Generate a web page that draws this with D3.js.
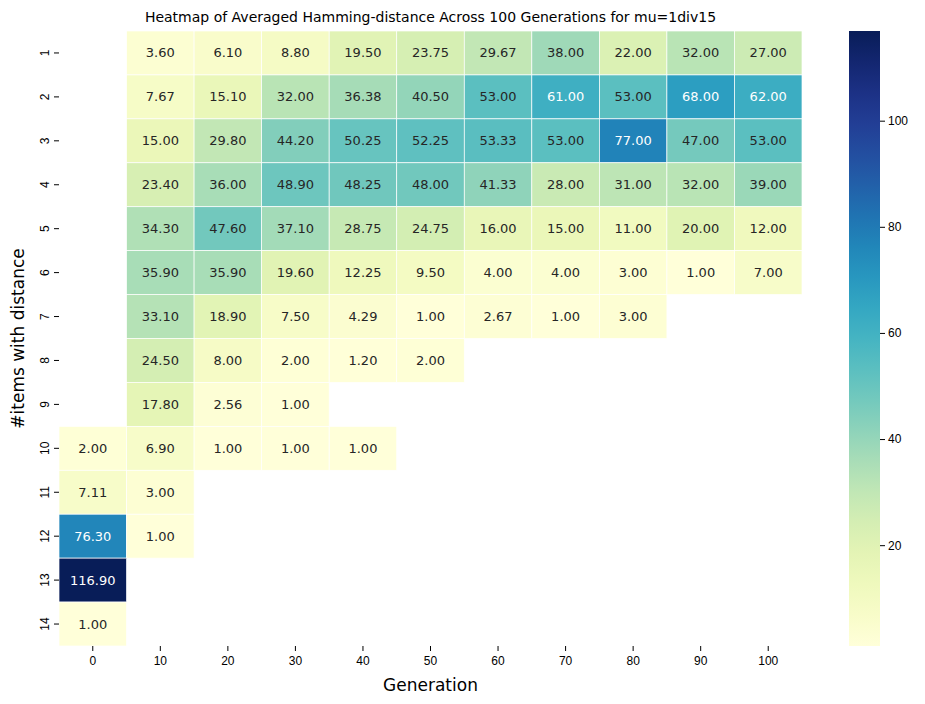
<!DOCTYPE html>
<html><head><meta charset="utf-8">
<script src="https://cdn.jsdelivr.net/npm/d3@7"></script>
<style>body{margin:0;background:#fff;font-family:"DejaVu Sans",sans-serif}</style>
</head><body><svg id="c" width="925" height="704"></svg>
<script>
const generations=[0,10,20,30,40,50,60,70,80,90,100];
const items=[1,2,3,4,5,6,7,8,9,10,11,12,13,14];
const N=null;
const row1=[N,3.60,6.10,8.80,19.50,23.75,29.67,38.00,22.00,32.00,27.00];
const row2=[N,7.67,15.10,32.00,36.38,40.50,53.00,61.00,53.00,68.00,62.00];
const row3=[N,15.00,29.80,44.20,50.25,52.25,53.33,53.00,77.00,47.00,53.00];
const row4=[N,23.40,36.00,48.90,48.25,48.00,41.33,28.00,31.00,32.00,39.00];
const row5=[N,34.30,47.60,37.10,28.75,24.75,16.00,15.00,11.00,20.00,12.00];
const row6=[N,35.90,35.90,19.60,12.25,9.50,4.00,4.00,3.00,1.00,7.00];
const row7=[N,33.10,18.90,7.50,4.29,1.00,2.67,1.00,3.00,N,N];
const row8=[N,24.50,8.00,2.00,1.20,2.00,N,N,N,N,N];
const row9=[N,17.80,2.56,1.00,N,N,N,N,N,N,N];
const row10=[2.00,6.90,1.00,1.00,1.00,N,N,N,N,N,N];
const row11=[7.11,3.00,N,N,N,N,N,N,N,N,N];
const row12=[76.30,1.00,N,N,N,N,N,N,N,N,N];
const row13=[116.90,N,N,N,N,N,N,N,N,N,N];
const row14=[1.00,N,N,N,N,N,N,N,N,N,N];
const rows=[row1,row2,row3,row4,row5,row6,row7,row8,row9,row10,row11,row12,row13,row14];
const cbTicks=[20,40,60,80,100];

const svg=d3.select("#c");
const L=59,R=802,T=31,B=646;
const x=d3.scaleBand().domain(generations).range([L,R]);
const y=d3.scaleBand().domain(items).range([T,B]);
const cells=[];
rows.forEach((r,i)=>r.forEach((v,j)=>{if(v!==null)cells.push({g:generations[j],it:items[i],v});}));
const vmin=d3.min(cells,d=>d.v),vmax=d3.max(cells,d=>d.v);
const col=d3.scaleSequential(d3.interpolateYlGnBu).domain([vmin,vmax]);
function lum(c){const o=d3.rgb(c);const f=u=>{u/=255;return u<=0.03928?u/12.92:Math.pow((u+0.055)/1.055,2.4)};return 0.2126*f(o.r)+0.7152*f(o.g)+0.0722*f(o.b);}
const g=svg.append("g");
g.selectAll("rect").data(cells).join("rect")
 .attr("x",d=>x(d.g)).attr("y",d=>y(d.it)).attr("width",x.bandwidth()).attr("height",y.bandwidth())
 .attr("fill",d=>col(d.v)).attr("stroke","#fff").attr("stroke-width",0.7);
g.selectAll("text").data(cells).join("text")
 .attr("x",d=>x(d.g)+x.bandwidth()/2).attr("y",d=>y(d.it)+y.bandwidth()/2)
 .attr("text-anchor","middle").attr("dominant-baseline","central").attr("font-size",13)
 .attr("fill",d=>lum(col(d.v))>0.408?"#262626":"#fff").text(d=>d.v.toFixed(2));
const xa=svg.append("g").attr("transform",`translate(0,${B})`).call(d3.axisBottom(x).tickSizeOuter(0).tickSize(5));
xa.select(".domain").remove();
xa.selectAll("text").attr("font-size",12).attr("fill","#000").attr("dy","0.9em");
const ya=svg.append("g").attr("transform",`translate(${L},0)`).call(d3.axisLeft(y).tickSizeOuter(0).tickSize(5));
ya.select(".domain").remove();
ya.selectAll("text").attr("font-size",12).attr("fill","#000").attr("transform","rotate(-90)")
 .attr("x",0).attr("dx",0).attr("y",-14).attr("dy","0").attr("text-anchor","middle");
ya.selectAll(".tick text").each(function(){d3.select(this).attr("transform","rotate(-90)").attr("x",0).attr("y",-10);});
svg.append("text").attr("x",(L+R)/2).attr("y",22).attr("text-anchor","middle").attr("font-size",14).text("Heatmap of Averaged Hamming-distance Across 100 Generations for mu=1div15");
svg.append("text").attr("x",(L+R)/2).attr("y",691).attr("text-anchor","middle").attr("font-size",17).text("Generation");
svg.append("text").attr("transform",`translate(24,${(T+B)/2}) rotate(-90)`).attr("text-anchor","middle").attr("font-size",17).text("#items with distance");
// colorbar
const cx=849,cw=31;
const cy=d3.scaleLinear().domain([vmin,vmax]).range([B,T]);
const defs=svg.append("defs");
const lg=defs.append("linearGradient").attr("id","cb").attr("x1",0).attr("y1",1).attr("x2",0).attr("y2",0);
d3.range(0,1.001,0.05).forEach(t=>lg.append("stop").attr("offset",t).attr("stop-color",d3.interpolateYlGnBu(t)));
svg.append("rect").attr("x",cx).attr("y",T).attr("width",cw).attr("height",B-T).attr("fill","url(#cb)");
const ca=svg.append("g").attr("transform",`translate(${cx+cw},0)`).call(d3.axisRight(cy).tickValues(cbTicks).tickSize(5).tickSizeOuter(0));
ca.select(".domain").remove();
ca.selectAll("text").attr("font-size",12).attr("fill","#000");
</script></body></html>
